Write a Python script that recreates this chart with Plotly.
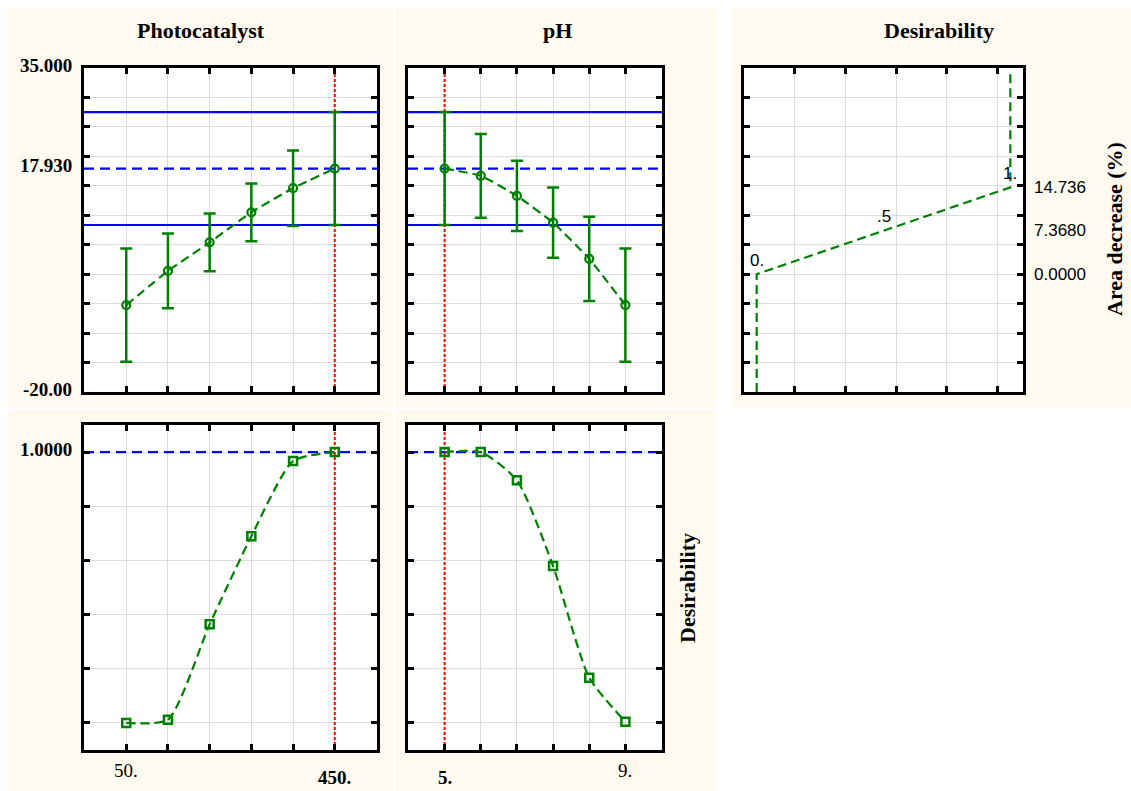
import plotly.graph_objects as go

W, H = 1131, 791

# ---------------- data ----------------
photocat_levels = [50, 130, 210, 290, 370, 450]
photocat_pred = [-5.25, 0.55, 5.4, 10.5, 14.6, 17.93]
photocat_ci = [9.6, 6.35, 4.9, 4.9, 6.4, 9.58]
photocat_desir = [0.0, 0.012, 0.364, 0.689, 0.967, 1.0]

ph_levels = [5.0, 5.8, 6.6, 7.4, 8.2, 9.0]
ph_pred = [17.93, 16.7, 13.3, 8.75, 2.6, -5.25]
ph_ci = [9.58, 7.1, 5.95, 5.95, 7.15, 9.6]
ph_desir = [1.0, 1.0, 0.896, 0.579, 0.167, 0.004]

current_photocat = 450
current_ph = 5.0
current_pred = 17.93
current_ci_low = 8.35
current_ci_high = 27.51
current_desir = 1.0

desfn_d = [0.0, 0.0, 0.5, 1.0, 1.0]
desfn_resp = [-20.0, 0.0, 7.368, 14.736, 34.0]
desfn_label_d = [0.0, 0.5, 1.0]
desfn_label_resp = [0.0, 7.368, 14.736]
desfn_label_text = ["0.", ".5", "1."]
resp_tick_vals = [14.736, 7.368, 0.0]
resp_tick_text = ["14.736", "7.3680", "0.0000"]

resp_range = [-20.0, 35.0]
resp_ticks = [-20, -15, -10, -5, 0, 5, 10, 15, 20, 25, 30, 35]
resp_left_vals = [35.0, 17.93, -20.0]
resp_left_text = ["35.000", "17.930", "-20.00"]
des_range = [-0.1, 1.1]
des_ticks = [0.0, 0.2, 0.4, 0.6, 0.8, 1.0]
photocat_range = [-31, 531]
ph_range = [4.19, 9.81]
desfn_range = [-0.05, 1.05]
desfn_ticks = [0.15, 0.35, 0.55, 0.75, 0.95]
photocat_label_vals = [50, 450]
photocat_label_text = ["50.", "450."]
ph_label_vals = [5.0, 9.0]
ph_label_text = ["5.", "9."]

GREEN = "#008000"
BLUE = "#0000ff"
RED = "#ff0000"
CREAM = "#fffaf0"
SERIF = "Liberation Serif, Times New Roman, serif"
SANS = "Liberation Sans, Arial, sans-serif"


def dx(a, b):
    return [a / W, b / W]


def dy(top, bottom):
    return [1 - bottom / H, 1 - top / H]


def axis(domain, rng, tickvals, anchor):
    return dict(domain=domain, range=rng, tickvals=tickvals, showticklabels=False,
                ticks="inside", ticklen=6, tickwidth=2.5, tickcolor="black",
                showline=True, linewidth=2.5, linecolor="black", mirror="ticks",
                showgrid=True, gridcolor="#dcdcdc", gridwidth=1, zeroline=False,
                anchor=anchor, fixedrange=True)


fig = go.Figure()

GREEN_DASH = "9px,5px"


def vline(xa, ya, xv, yr):
    fig.add_trace(go.Scatter(x=[xv, xv], y=yr, mode="lines", xaxis=xa, yaxis=ya,
                             line=dict(color=RED, width=2, dash="3px,2px"),
                             hoverinfo="skip", showlegend=False))


def hline(xa, ya, xr, yv, dash):
    fig.add_trace(go.Scatter(x=xr, y=[yv, yv], mode="lines", xaxis=xa, yaxis=ya,
                             line=dict(color=BLUE, width=2.2, dash=dash),
                             hoverinfo="skip", showlegend=False))


# --- top-left: photocatalyst response ---
vline("x", "y", current_photocat, resp_range)
hline("x", "y", photocat_range, current_ci_high, "solid")
hline("x", "y", photocat_range, current_ci_low, "solid")
hline("x", "y", photocat_range, current_pred, "10px,6px")
fig.add_trace(go.Scatter(
    x=photocat_levels, y=photocat_pred, mode="lines+markers", xaxis="x", yaxis="y",
    line=dict(color=GREEN, width=2.2, dash=GREEN_DASH, shape="spline", smoothing=0.4),
    marker=dict(symbol="circle-open", size=8, color=GREEN, line=dict(width=2.2, color=GREEN)),
    error_y=dict(type="data", array=photocat_ci, color=GREEN, thickness=2.5, width=6),
    showlegend=False))

# --- top-middle: pH response ---
vline("x2", "y2", current_ph, resp_range)
hline("x2", "y2", ph_range, current_ci_high, "solid")
hline("x2", "y2", ph_range, current_ci_low, "solid")
hline("x2", "y2", ph_range, current_pred, "10px,6px")
fig.add_trace(go.Scatter(
    x=ph_levels, y=ph_pred, mode="lines+markers", xaxis="x2", yaxis="y2",
    line=dict(color=GREEN, width=2.2, dash=GREEN_DASH, shape="spline", smoothing=0.4),
    marker=dict(symbol="circle-open", size=8, color=GREEN, line=dict(width=2.2, color=GREEN)),
    error_y=dict(type="data", array=ph_ci, color=GREEN, thickness=2.5, width=6),
    showlegend=False))

# --- top-right: desirability function ---
fig.add_trace(go.Scatter(
    x=desfn_d, y=desfn_resp, mode="lines", xaxis="x3", yaxis="y3",
    line=dict(color=GREEN, width=2.2, dash=GREEN_DASH), showlegend=False))

# --- bottom-left: photocatalyst desirability ---
vline("x4", "y4", current_photocat, des_range)
hline("x4", "y4", photocat_range, current_desir, "10px,6px")
fig.add_trace(go.Scatter(
    x=photocat_levels, y=photocat_desir, mode="lines+markers", xaxis="x4", yaxis="y4",
    line=dict(color=GREEN, width=2.2, dash=GREEN_DASH, shape="spline", smoothing=0.6),
    marker=dict(symbol="square-open", size=8, color=GREEN, line=dict(width=2.5, color=GREEN)),
    showlegend=False))

# --- bottom-middle: pH desirability ---
vline("x5", "y5", current_ph, des_range)
hline("x5", "y5", ph_range, current_desir, "10px,6px")
fig.add_trace(go.Scatter(
    x=ph_levels, y=ph_desir, mode="lines+markers", xaxis="x5", yaxis="y5",
    line=dict(color=GREEN, width=2.2, dash=GREEN_DASH, shape="spline", smoothing=0.6),
    marker=dict(symbol="square-open", size=8, color=GREEN, line=dict(width=2.5, color=GREEN)),
    showlegend=False))

# ---------------- layout ----------------
TL_X, TM_X, TR_X = dx(84, 377), dx(408, 662), dx(744, 1023)
TOP_Y, BOT_Y = dy(68, 392), dy(425, 750)

layout = dict(
    width=W, height=H, margin=dict(l=0, r=0, t=0, b=0),
    paper_bgcolor=CREAM, plot_bgcolor="#ffffff", showlegend=False,
    xaxis=axis(TL_X, photocat_range, photocat_levels, "y"),
    yaxis=axis(TOP_Y, resp_range, resp_ticks, "x"),
    xaxis2=axis(TM_X, ph_range, ph_levels, "y2"),
    yaxis2=axis(TOP_Y, resp_range, resp_ticks, "x2"),
    xaxis3=axis(TR_X, desfn_range, desfn_ticks, "y3"),
    yaxis3=axis(TOP_Y, resp_range, resp_ticks, "x3"),
    xaxis4=axis(TL_X, photocat_range, photocat_levels, "y4"),
    yaxis4=axis(BOT_Y, des_range, des_ticks, "x4"),
    xaxis5=axis(TM_X, ph_range, ph_levels, "y5"),
    yaxis5=axis(BOT_Y, des_range, des_ticks, "x5"),
)

# white gaps between the cream panels
gaps = [(0, 0, W, 8), (0, 0, 7, H), (393, 0, 396, H), (717, 0, 732, H),
        (0, 407, W, 410), (717, 409, W, H)]
shapes = []
for (x0, y0, x1, y1) in gaps:
    shapes.append(dict(type="rect", xref="paper", yref="paper", layer="below",
                       x0=x0 / W, x1=x1 / W, y0=1 - y1 / H, y1=1 - y0 / H,
                       fillcolor="#ffffff", line=dict(width=0)))
layout["shapes"] = shapes

ann = []


def title(text, xc, yc, size=22, angle=0):
    ann.append(dict(text="<b>%s</b>" % text, x=xc / W, y=1 - yc / H, xref="paper", yref="paper",
                    showarrow=False, textangle=angle, xanchor="center", yanchor="middle",
                    font=dict(family=SERIF, size=size, color="black")))


title("Photocatalyst", 201, 31)
title("pH", 557, 31)
title("Desirability", 939, 31)
title("Area decrease (%)", 1114, 229, angle=-90)
title("Desirability", 687, 588, angle=-90)

# left response labels
for v, t in zip(resp_left_vals, resp_left_text):
    ann.append(dict(text="<b>%s</b>" % t, x=0, xref="x domain", y=v, yref="y",
                    xanchor="right", yanchor="middle", xshift=-10, yshift=3, showarrow=False,
                    font=dict(family=SERIF, size=19, color="black")))
ann.append(dict(text="<b>1.0000</b>", x=0, xref="x4 domain", y=current_desir, yref="y4",
                xanchor="right", yanchor="middle", xshift=-10, yshift=3, showarrow=False,
                font=dict(family=SERIF, size=19, color="black")))

# bottom factor labels
for xa, ya, vals, texts, cur in (("x4", "y4", photocat_label_vals, photocat_label_text, current_photocat),
                                  ("x5", "y5", ph_label_vals, ph_label_text, current_ph)):
    for v, t in zip(vals, texts):
        bold = v == cur
        ann.append(dict(text=("<b>%s</b>" % t) if bold else t, x=v, xref=xa, y=0,
                        yref=ya + " domain", xanchor="center", yanchor="middle",
                        yshift=-27 if bold else -20, showarrow=False,
                        font=dict(family=SERIF, size=19, color="black")))

# desirability function labels
for d, r, t in zip(desfn_label_d, desfn_label_resp, desfn_label_text):
    ann.append(dict(text=t, x=d, xref="x3", y=r, yref="y3", xanchor="center",
                    yanchor="middle", yshift=14, showarrow=False,
                    font=dict(family=SANS, size=17, color="black")))
for v, t in zip(resp_tick_vals, resp_tick_text):
    ann.append(dict(text=t, x=1, xref="x3 domain", y=v, yref="y3", xanchor="left",
                    yanchor="middle", xshift=9, showarrow=False,
                    font=dict(family=SANS, size=17, color="black")))

layout["annotations"] = ann
fig.update_layout(**layout)
fig.write_html("out.html")
